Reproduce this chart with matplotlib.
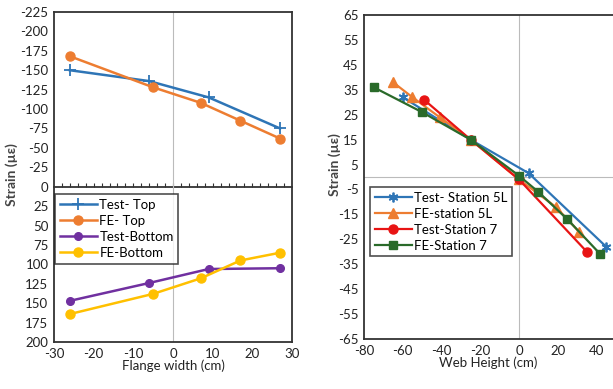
# Strain distribution across flange width and web height
import numpy as np
import matplotlib.pyplot as plt
from matplotlib.ticker import MultipleLocator

plt.rcParams['font.family'] = ['Lato', 'DejaVu Sans']
plt.rcParams['axes.unicode_minus'] = False

# left chart - flange
top_test_x = [-26, -6, 9, 27]
top_test_y = [-150, -136, -115, -75]
top_fe_x = [-26, -5, 7, 17, 27]
top_fe_y = [-168, -128, -108, -85, -62]
bot_test_x = [-26, -6, 9, 27]
bot_test_y = [147, 124, 106, 105]
bot_fe_x = [-26, -5, 7, 17, 27]
bot_fe_y = [164, 138, 118, 95, 85]

# right chart - web
s5_test_x = [-60, -25, 5, 45]
s5_test_y = [32, 15, 1.5, -28]
s5_fe_x = [-65, -55, -41, -25, 0, 19, 31]
s5_fe_y = [38, 32, 24, 15, -1, -12, -22]
s7_test_x = [-49, -25, 0, 35]
s7_test_y = [31, 15, -1, -30]
s7_fe_x = [-75, -50, -25, 0, 10, 25, 42]
s7_fe_y = [36, 26, 15, 0.5, -6, -17, -31]

W, H = 613, 389
fig = plt.figure(figsize=(W / 100, H / 100), dpi=100)

def frame(ax):
    for s in ax.spines.values():
        s.set_color('#333333')
        s.set_linewidth(1.3)
    ax.tick_params(length=0, labelsize=9.5, pad=4, labelcolor='#222222')

# ---------- left
ax1 = fig.add_axes([54 / W, 1 - 342 / H, (292 - 54) / W, (342 - 12) / H])
frame(ax1)
ax1.set_xlim(-30, 30)
ax1.set_ylim(200, -225)
ax1.xaxis.set_major_locator(MultipleLocator(10))
ax1.yaxis.set_major_locator(MultipleLocator(25))
ax1.axvline(0, color='#bbbbbb', lw=0.8, zorder=1)
zero_pos = (200 - 0) / 425
sec = ax1.secondary_xaxis(zero_pos)
sec.set_xticks(np.arange(-28, 29, 2))
sec.tick_params(direction='in', length=3, width=0.8, labelbottom=False, color='#333333')
sec.spines['bottom'].set_linewidth(1.3)
sec.spines['bottom'].set_color('#333333')

ax1.plot(top_test_x, top_test_y, color='#2E75B6', lw=1.8, marker='+', ms=8, mew=1.3, label='Test- Top')
ax1.plot(top_fe_x, top_fe_y, color='#ED7D31', lw=1.8, marker='o', ms=6.5, label='FE- Top')
ax1.plot(bot_test_x, bot_test_y, color='#7030A0', lw=1.8, marker='o', ms=5.5, label='Test-Bottom')
ax1.plot(bot_fe_x, bot_fe_y, color='#FFC000', lw=1.8, marker='o', ms=6.5, label='FE-Bottom')
leg1 = ax1.legend(loc='upper left', bbox_to_anchor=(0.005, 0.447), fontsize=9.5,
                  frameon=True, fancybox=False, edgecolor='#222222', handlelength=2.8,
                  labelspacing=0.3, borderaxespad=0, borderpad=0.35, handletextpad=0.2)
leg1.get_frame().set_linewidth(1.2)
ax1.set_xlabel('Flange width (cm)', fontsize=9.5, labelpad=0, color='#222222')
fig.text(12 / W, 1 - 175 / H, 'Strain (µε)', rotation=90, ha='center', va='center',
         fontsize=10, fontweight='bold', color='#444444')

# ---------- right
ax2 = fig.add_axes([364 / W, 1 - 339 / H, (W - 364) / W, (339 - 15) / H])
frame(ax2)
ax2.spines['right'].set_visible(False)
ax2.set_xlim(-80, 48.5)
ax2.set_ylim(-65, 65)
ax2.xaxis.set_major_locator(MultipleLocator(20))
ax2.set_yticks(np.arange(-65, 66, 10))
ax2.axvline(0, color='#bbbbbb', lw=0.8, zorder=1)
ax2.axhline(0, color='#bbbbbb', lw=0.8, zorder=1)

ax2.plot(s5_test_x, s5_test_y, color='#2E75B6', lw=1.6, marker=(6, 2, 0), ms=7, mew=1.3, label='Test- Station 5L')
ax2.plot(s5_fe_x, s5_fe_y, color='#ED7D31', lw=1.6, marker='^', ms=7, label='FE-station 5L')
ax2.plot(s7_test_x, s7_test_y, color='#E81414', lw=1.6, marker='o', ms=6.5, label='Test-Station 7')
ax2.plot(s7_fe_x, s7_fe_y, color='#2A6A2A', lw=1.6, marker='s', ms=5.5, label='FE-Station 7')
leg2 = ax2.legend(loc='upper left', bbox_to_anchor=(0.024, 0.469), fontsize=9.5,
                  frameon=True, fancybox=False, edgecolor='#222222', handlelength=2.8,
                  labelspacing=0.3, borderaxespad=0, borderpad=0.35, handletextpad=0.2)
leg2.get_frame().set_linewidth(1.2)
ax2.set_xlabel('Web Height (cm)', fontsize=9.5, labelpad=0, color='#222222')
fig.text(335 / W, 1 - 165 / H, 'Strain (µε)', rotation=90, ha='center', va='center',
         fontsize=10, fontweight='bold', color='#444444')

fig.savefig('out.png', dpi=100)
